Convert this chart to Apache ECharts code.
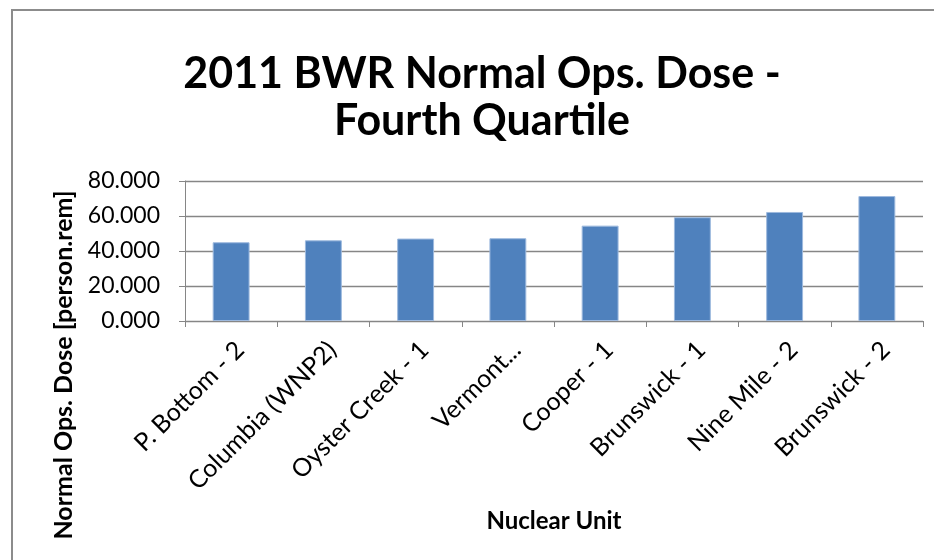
<!DOCTYPE html>
<html>
<head>
<meta charset="utf-8">
<script src="https://cdn.jsdelivr.net/npm/echarts@6/dist/echarts.min.js"></script>
<style>
  html, body { margin: 0; padding: 0; background: #fff; }
  #chart { width: 934px; height: 560px; }
</style>
</head>
<body>
<div id="chart"></div>
<script>
const units = ['P. Bottom - 2', 'Columbia (WNP2)', 'Oyster Creek - 1', 'Vermont...', 'Cooper - 1', 'Brunswick - 1', 'Nine Mile - 2', 'Brunswick - 2']
const dose = [45.0, 46.1, 47.1, 47.3, 54.5, 59.3, 62.3, 71.4]
const yTicks = [0, 20, 40, 60, 80]

const font = 'Lato, "Open Sans", sans-serif'
const chart = echarts.init(document.getElementById('chart'))

chart.setOption({
  backgroundColor: '#fff',
  animation: false,
  title: {
    text: '2011 BWR Normal Ops. Dose -\nFourth Quartile',
    left: 482,
    top: 51,
    textAlign: 'center',
    padding: 0,
    textStyle: {
      fontFamily: font,
      fontWeight: 'bold',
      fontSize: 43,
      lineHeight: 47,
      color: '#000'
    }
  },
  grid: {
    left: 185,
    right: 11,
    top: 181,
    bottom: 239
  },
  xAxis: {
    type: 'category',
    data: units,
    name: 'Nuclear Unit',
    nameLocation: 'middle',
    nameGap: 188,
    nameTextStyle: {
      fontFamily: font,
      fontWeight: 'bold',
      fontSize: 24,
      color: '#000'
    },
    axisLine: { lineStyle: { color: '#868686', width: 1 } },
    axisTick: { show: true, length: 6, lineStyle: { color: '#868686' } },
    axisLabel: {
      rotate: 45,
      interval: 0,
      margin: 16,
      verticalAlign: 'top',
      fontFamily: font,
      fontSize: 25,
      color: '#000'
    }
  },
  yAxis: {
    type: 'value',
    min: yTicks[0],
    max: yTicks[yTicks.length - 1],
    interval: 20,
    axisLine: { show: true, lineStyle: { color: '#868686', width: 1 } },
    axisTick: { show: true, length: 6, lineStyle: { color: '#868686' } },
    splitLine: { lineStyle: { color: '#868686', width: 1.3 } },
    axisLabel: {
      margin: 25,
      fontFamily: font,
      fontSize: 23,
      color: '#000',
      formatter: v => v.toFixed(3)
    }
  },
  graphic: [
    {
      type: 'rect',
      silent: true,
      shape: { x: 12, y: 10, width: 1000, height: 1000 },
      style: { fill: 'none', stroke: '#8c8c8c', lineWidth: 2 }
    },
    {
      type: 'text',
      x: 64,
      y: 365,
      rotation: Math.PI / 2,
      style: {
        text: 'Normal Ops. Dose [person.rem]',
        fontFamily: font,
        fontWeight: 'bold',
        fontSize: 25,
        fill: '#000',
        align: 'center',
        verticalAlign: 'middle'
      }
    }
  ],
  series: [
    {
      type: 'bar',
      data: dose,
      barWidth: '40%',
      itemStyle: {
        color: '#4F81BD',
        borderColor: '#9DB9DE',
        borderWidth: 1
      }
    }
  ]
})
</script>
</body>
</html>
